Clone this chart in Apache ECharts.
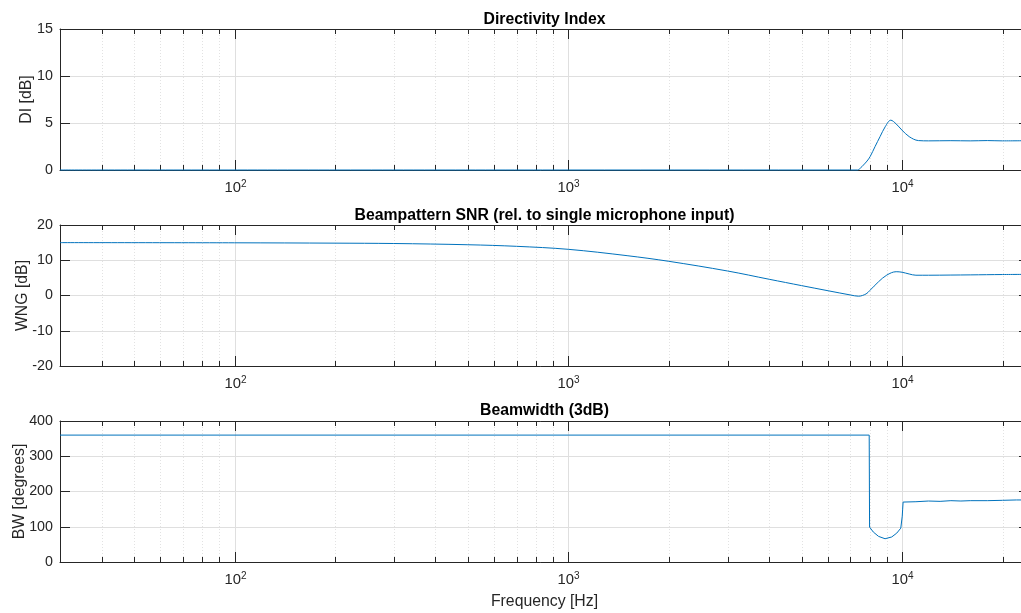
<!DOCTYPE html>
<html>
<head>
<meta charset="utf-8">
<script src="https://cdn.jsdelivr.net/npm/echarts@6/dist/echarts.min.js"></script>
<style>
html,body{margin:0;padding:0;background:#fff;}
#chart{width:1021px;height:613px;}
</style>
</head>
<body>
<div id="chart"></div>
<script>
// ---------- data ----------
const titles = ['Directivity Index', 'Beampattern SNR (rel. to single microphone input)', 'Beamwidth (3dB)'];
const yNames = ['DI [dB]', 'WNG [dB]', 'BW [degrees]'];
const xName = 'Frequency [Hz]';
const xMin = 30, xMax = 24000;
const yMins = [0, -20, 0];
const yMaxs = [15, 20, 400];
const yIntervals = [5, 10, 100];
const majorFreqs = [100, 1000, 10000];
const minorFreqs = [40, 50, 60, 70, 80, 90, 200, 300, 400, 500, 600, 700, 800, 900,
                    2000, 3000, 4000, 5000, 6000, 7000, 8000, 9000, 20000];

const freqDI = [30, 1000, 7000, 7350, 7500, 7660, 7850, 8020, 8300, 8590, 8900, 9250, 9600, 9980, 10500, 11190, 12000, 14000, 16000, 18000, 20000, 24000];
const valDI  = [0, 0, 0, 0, 0.2, 0.53, 0.95, 1.42, 2.5, 3.55, 4.6, 5.3, 4.9, 4.26, 3.55, 3.13, 3.1, 3.12, 3.1, 3.13, 3.1, 3.12];

const freqWNG = [30, 100, 200, 300, 500, 700, 1000, 1500, 2000, 3000, 4000, 5000, 6000, 7000, 7400, 7800, 8000, 8500, 9000, 9600, 10000, 10500, 11000, 12000, 14000, 16000, 20000, 24000];
const valWNG  = [15, 14.95, 14.85, 14.75, 14.4, 13.95, 13.1, 11.3, 9.7, 6.95, 4.6, 2.8, 1.35, 0.15, -0.2, 0.45, 1.4, 3.9, 5.8, 6.75, 6.6, 6.1, 5.75, 5.75, 5.8, 5.85, 5.95, 6.0];

const freqBW = [30, 1000, 7970, 7990, 8200, 8500, 8890, 9310, 9640, 9910, 9990, 10010, 10040, 10070, 11000, 12000, 13000, 14000, 15000, 16000, 18000, 20000, 22000, 24000];
const valBW  = [360, 360, 360, 99, 85, 72.7, 66, 71, 82, 96, 100, 130, 150, 170, 171, 173, 172, 174, 173, 174, 174, 175, 176, 176];

// ---------- layout ----------
const FONT = '"Liberation Sans", Arial, Helvetica, sans-serif';
const AX = '#262626';
const gridTops = [29, 225, 421];
const gridH = 141;
const gridLeft = 60, gridW = 969;
const titleTops = [12, 208, 403];
const nameGaps = [25.5, 29.5, 32.5];

const grids = [], xAxes = [], yAxes = [], series = [], titleArr = [];
const allTicks = majorFreqs.concat(minorFreqs);

for (let g = 0; g < 3; g++) {
  grids.push({left: gridLeft, top: gridTops[g], width: gridW, height: gridH, containLabel: false, outerBoundsMode: 'none'});
  titleArr.push({text: titles[g], left: gridLeft + gridW / 2, top: titleTops[g], textAlign: 'center', padding: 0,
    textStyle: {fontFamily: FONT, fontSize: 15.8, fontWeight: 'bold', color: '#000'}});
  const xBase = {type: 'log', logBase: 10, min: xMin, max: xMax, gridIndex: g,
    axisLine: {show: true, onZero: false, lineStyle: {color: AX, width: 1}},
    axisTick: {show: false}, axisLabel: {show: false}, splitLine: {show: false}, minorTick: {show: false}};
  const xb = Object.assign({}, xBase, {position: 'bottom'});
  if (g === 2) {
    Object.assign(xb, {name: xName, nameLocation: 'middle', nameGap: 32, nameMoveOverlap: false,
      nameTextStyle: {fontFamily: FONT, fontSize: 15.8, color: AX}});
  }
  xAxes.push(xb);
  xAxes.push(Object.assign({}, xBase, {position: 'top'}));
  yAxes.push({type: 'value', gridIndex: g, position: 'left', min: yMins[g], max: yMaxs[g], interval: yIntervals[g],
    axisLine: {show: true, onZero: false, lineStyle: {color: AX, width: 1}},
    axisTick: {show: true, inside: true, length: 10, lineStyle: {color: AX, width: 1}},
    axisLabel: {color: AX, fontFamily: FONT, fontSize: 14.3, margin: 7},
    splitLine: {show: true, lineStyle: {color: '#dfdfdf', width: 1}},
    name: yNames[g], nameLocation: 'middle', nameGap: nameGaps[g], nameMoveOverlap: false,
    nameTextStyle: {fontFamily: FONT, fontSize: 15.8, color: AX}});
  yAxes.push({type: 'value', gridIndex: g, position: 'right', min: yMins[g], max: yMaxs[g], interval: yIntervals[g],
    axisLine: {show: true, onZero: false, lineStyle: {color: AX, width: 1}},
    axisTick: {show: true, inside: true, length: 10, lineStyle: {color: AX, width: 1}},
    axisLabel: {show: false}, splitLine: {show: false}});

  // x grid lines, ticks and labels drawn through the log axis
  const yMin = yMins[g];
  series.push({
    type: 'custom', xAxisIndex: g * 2, yAxisIndex: g * 2, silent: true, z: 1, clip: false,
    data: allTicks.map(f => [f, yMin]),
    renderItem: function (params, api) {
      const f = api.value(0);
      const cs = params.coordSys;
      const x = Math.round(api.coord([f, yMin])[0]) + 0.5;
      const top = cs.y, bot = cs.y + cs.height;
      const major = majorFreqs.indexOf(f) >= 0;
      const tl = major ? 10 : 5;
      const children = [
        {type: 'line', shape: {x1: x, y1: top, x2: x, y2: bot},
          style: major ? {stroke: '#dfdfdf', lineWidth: 1} : {stroke: '#e2e2e2', lineWidth: 1, lineDash: [1, 2]}},
        {type: 'line', shape: {x1: x, y1: bot, x2: x, y2: bot - tl}, style: {stroke: AX, lineWidth: 1}},
        {type: 'line', shape: {x1: x, y1: top, x2: x, y2: top + tl}, style: {stroke: AX, lineWidth: 1}}
      ];
      if (major) {
        const e = Math.round(Math.log10(f));
        children.push({type: 'text', x: x, y: bot + 9,
          style: {text: '{b|10}{s|' + e + '}', align: 'center', verticalAlign: 'top',
            rich: {b: {fontFamily: FONT, fontSize: 14.8, fill: AX, lineHeight: 18},
                   s: {fontFamily: FONT, fontSize: 10, fill: AX, verticalAlign: 'top', lineHeight: 12}}}});
      }
      return {type: 'group', children: children};
    }
  });
}

const lineStyle = {color: '#0072BD', width: 1};
const pairs = (fs, vs) => fs.map((f, i) => [f, vs[i]]);
series.push({type: 'line', xAxisIndex: 0, yAxisIndex: 0, data: pairs(freqDI, valDI), showSymbol: false, symbol: 'none',
  smooth: 0.35, lineStyle: lineStyle, itemStyle: {color: '#0072BD'}, clip: false, z: 3, animation: false});
series.push({type: 'line', xAxisIndex: 2, yAxisIndex: 2, data: pairs(freqWNG, valWNG), showSymbol: false, symbol: 'none',
  smooth: 0.35, lineStyle: lineStyle, itemStyle: {color: '#0072BD'}, clip: false, z: 3, animation: false});
series.push({type: 'line', xAxisIndex: 4, yAxisIndex: 4, data: pairs(freqBW, valBW), showSymbol: false, symbol: 'none',
  smooth: false, lineStyle: lineStyle, itemStyle: {color: '#0072BD'}, clip: false, z: 3, animation: false});

const chart = echarts.init(document.getElementById('chart'), null, {renderer: 'canvas'});
chart.setOption({
  animation: false,
  backgroundColor: '#fff',
  title: titleArr,
  grid: grids,
  xAxis: xAxes,
  yAxis: yAxes,
  series: series
});
</script>
</body>
</html>
